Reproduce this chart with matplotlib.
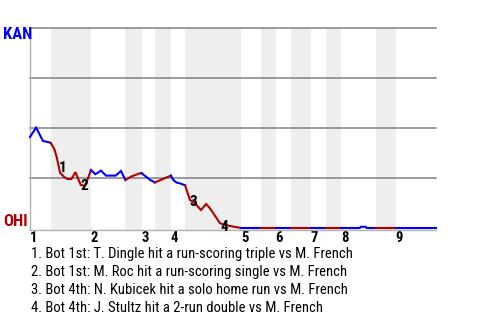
import matplotlib
matplotlib.use("Agg")
import matplotlib.pyplot as plt
from matplotlib import font_manager

# pick a narrow face if one is installed
available = {f.name for f in font_manager.fontManager.ttflist}
FONT = next((f for f in ["Roboto Condensed", "Liberation Sans Narrow", "DejaVu Sans Condensed", "Roboto"]
             if f in available), "DejaVu Sans")

# game progress (0-100) and KAN win probability (%) at each event
play_x = [0, 1.5, 3.2, 4.6, 5.1, 6.0, 6.6, 7.4, 8.4, 9.2, 10.2, 11.2, 11.8, 12.5, 13.5, 14.3, 15.0,
          16.1, 16.5, 17.5, 18.7, 21.1, 22.4, 23.5,
          24.9, 27.1, 27.5,
          29.6, 30.8,
          34.7,
          35.3, 36.1, 37.0, 38.2,
          39.4, 40.6, 42.1, 43.4, 44.3, 46.8, 48.0, 49.3, 50.1, 50.9, 52.0,
          56.8, 60.5, 64.2, 69.1, 72.8, 76.6, 81.2, 81.5, 82.7, 82.9, 85.2, 90.1, 100]
kan_wp = [45.5, 50.2, 43.5, 42.9, 42.5, 39.4, 35.2, 27.7, 25.5, 24.5, 24.5, 27.9, 24.9, 21.5, 21.2, 24.9, 29.0,
          26.9, 27.4, 28.7, 26.2, 26.2, 28.5, 24.0,
          25.7, 27.4, 27.4,
          24.0, 22.8,
          26.2,
          24.0, 22.7, 22.3, 21.3,
          14.0, 12.4, 9.0, 12.0, 9.9, 2.4, 1.5, 1.0, 0.7, 0.4, 0,
          0, 0, 0, 0, 0, 0, 0, 0.6, 0.6, 0, 0, 0, 0]

# half-inning boundaries (top, bottom, top, ...) and inning starts
half_edges = [0, 5.1, 15.0, 23.5, 27.5, 30.8, 34.7, 38.2, 52.0, 56.8, 60.5, 64.2, 69.1, 72.8, 76.6, 85.2, 90.1, 100]
innings = ["1", "2", "3", "4", "5", "6", "7", "8", "9"]

events = [
    "1. Bot 1st: T. Dingle hit a run-scoring triple vs M. French",
    "2. Bot 1st: M. Roc hit a run-scoring single vs M. French",
    "3. Bot 4th: N. Kubicek hit a solo home run vs M. French",
    "4. Bot 4th: J. Stultz hit a 2-run double vs M. French",
]
event_x = [8.1, 13.3, 40.2, 47.8]
event_wp = [29.9, 21.0, 13.2, 0.5]

AWAY_COL = "#0000ff"
HOME_COL = "#b00000"

fig = plt.figure(figsize=(4.8, 3.2), dpi=100)
ax = fig.add_axes([30 / 480, 90.5 / 320, 406 / 480, 201.5 / 320])
ax.set_xlim(0, 100)
ax.set_ylim(-0.75, 100)

# shade bottom halves, grid lines
for i in range(1, len(half_edges) - 1, 2):
    ax.axvspan(half_edges[i], half_edges[i + 1], color="#eeeeee", lw=0, zorder=0)
for g in [25, 50, 75, 100]:
    ax.axhline(g, color="#808080", lw=1.1, zorder=1, clip_on=False)

# win probability line, coloured by half inning
for i in range(len(half_edges) - 1):
    lo, hi = half_edges[i], half_edges[i + 1]
    xs = [x for x in play_x if lo <= x <= hi]
    ys = [w for x, w in zip(play_x, kan_wp) if lo <= x <= hi]
    ax.plot(xs, ys, color=AWAY_COL if i % 2 == 0 else HOME_COL, lw=1.5,
            solid_joinstyle="miter", zorder=3, clip_on=False)

for n, (x, w) in enumerate(zip(event_x, event_wp), start=1):
    ax.text(x, w, str(n), fontsize=11, fontweight="bold", family=FONT,
            ha="center", va="center", zorder=4)

for s in ["top", "right"]:
    ax.spines[s].set_visible(False)
for s in ["left", "bottom"]:
    ax.spines[s].set_color("#b0b0b0")
    ax.spines[s].set_linewidth(1.0)
ax.set_yticks([])
ax.set_xticks(half_edges[0:-1:2])
ax.set_xticklabels(innings, fontsize=10.5, fontweight="bold", family=FONT, ha="left")
ax.tick_params(axis="x", length=0, pad=1)

fig.text(3 / 480, 1 - 34.5 / 320, "KAN", color=AWAY_COL, fontsize=12, fontweight="bold",
         family=FONT, va="center", ha="left")
fig.text(3 / 480, 1 - 221 / 320, "OHI", color=HOME_COL, fontsize=12, fontweight="bold",
         family=FONT, va="center", ha="left")

for k, line in enumerate(events):
    fig.text(31 / 480, 1 - (254 + 18 * k) / 320, line, fontsize=10.5, family=FONT,
             va="center", ha="left")

fig.savefig("out.png", dpi=100)
